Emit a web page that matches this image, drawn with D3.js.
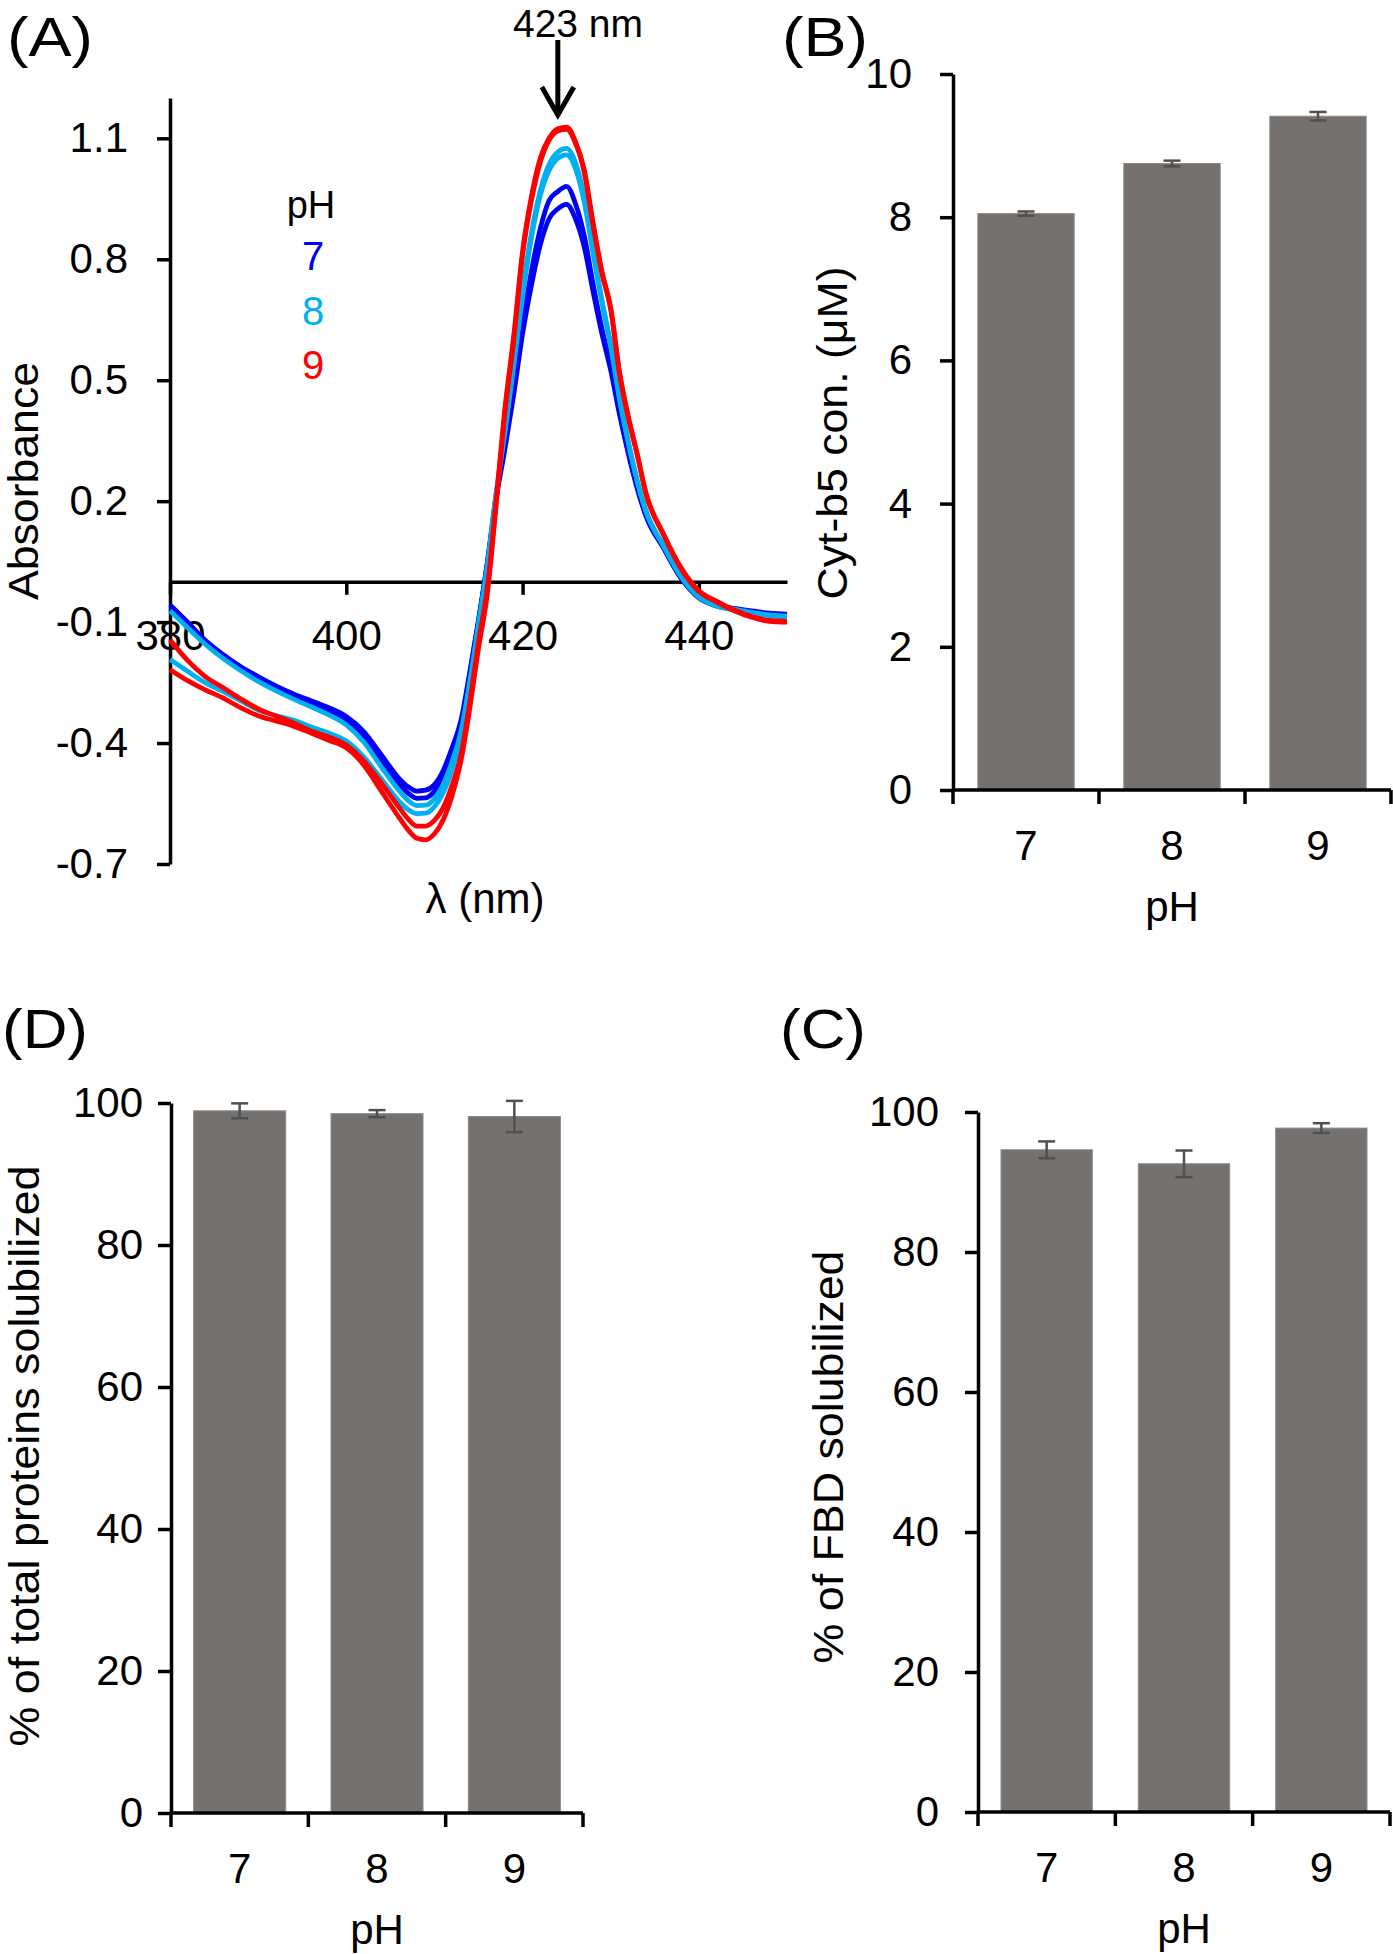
<!DOCTYPE html>
<html><head><meta charset="utf-8">
<script src="https://cdn.jsdelivr.net/npm/d3@7"></script>
<style>body{margin:0;background:#fff}svg{display:block}text{font-family:"Liberation Sans",Arial,sans-serif;fill:#000}</style>
</head><body>
<script>
// ---------- Panel A data ----------
const wavelengths = [380,382,384,386,388,390,392,394,396,398,400,402,404,406,
 407,408,409,410,411,412,413,414,415,416,417,418,419,420,421,422,423,424,425,426,427,428,429,430,431,432,433,434,
 436,438,440,442,444,446,448,450];
const absPH7a = [-0.057,-0.100,-0.145,-0.180,-0.210,-0.235,-0.258,-0.278,-0.295,-0.312,-0.334,-0.372,-0.430,-0.488,
 -0.508,-0.519,-0.517,-0.503,-0.468,-0.412,-0.345,-0.225,-0.095,0.045,0.205,0.330,0.465,0.615,0.735,0.835,0.900,0.925,0.936,0.900,0.830,0.720,0.615,0.525,0.415,0.318,0.232,0.163,
 0.083,0.008,-0.038,-0.058,-0.066,-0.072,-0.078,-0.080];
const absPH7b = [-0.066,-0.108,-0.150,-0.186,-0.216,-0.242,-0.265,-0.286,-0.304,-0.322,-0.345,-0.385,-0.445,-0.502,
 -0.524,-0.537,-0.536,-0.520,-0.485,-0.428,-0.358,-0.232,-0.098,0.048,0.215,0.345,0.485,0.640,0.770,0.875,0.945,0.968,0.981,0.938,0.858,0.738,0.628,0.535,0.422,0.322,0.236,0.166,
 0.085,0.010,-0.040,-0.060,-0.068,-0.074,-0.079,-0.082];
const absPH8a = [-0.072,-0.114,-0.155,-0.190,-0.220,-0.247,-0.270,-0.291,-0.310,-0.330,-0.355,-0.398,-0.460,-0.518,
 -0.542,-0.555,-0.554,-0.538,-0.502,-0.446,-0.372,-0.248,-0.105,0.040,0.220,0.380,0.545,0.720,0.865,0.970,1.035,1.066,1.075,1.040,0.955,0.825,0.700,0.590,0.458,0.348,0.252,0.176,
 0.090,0.014,-0.036,-0.058,-0.068,-0.076,-0.082,-0.085];
const absPH8b = [-0.193,-0.222,-0.250,-0.272,-0.295,-0.318,-0.332,-0.343,-0.360,-0.375,-0.395,-0.435,-0.490,-0.545,
 -0.565,-0.575,-0.574,-0.558,-0.523,-0.466,-0.390,-0.262,-0.112,0.035,0.215,0.372,0.535,0.708,0.852,0.957,1.020,1.050,1.059,1.025,0.942,0.815,0.692,0.584,0.452,0.344,0.249,0.174,
 0.088,0.012,-0.038,-0.060,-0.070,-0.078,-0.084,-0.088];
const absPH9a = [-0.144,-0.195,-0.235,-0.262,-0.290,-0.315,-0.333,-0.350,-0.370,-0.385,-0.405,-0.445,-0.500,-0.560,
 -0.588,-0.606,-0.606,-0.592,-0.560,-0.505,-0.430,-0.300,-0.150,-0.015,0.200,0.430,0.610,0.820,0.955,1.050,1.100,1.124,1.128,1.092,1.022,0.890,0.770,0.680,0.520,0.410,0.318,0.220,
 0.118,0.034,-0.022,-0.048,-0.070,-0.086,-0.096,-0.098];
const absPH9b = [-0.218,-0.245,-0.268,-0.288,-0.312,-0.332,-0.345,-0.358,-0.375,-0.393,-0.412,-0.455,-0.520,-0.585,
 -0.615,-0.636,-0.640,-0.625,-0.590,-0.530,-0.445,-0.315,-0.165,-0.030,0.190,0.420,0.600,0.810,0.945,1.040,1.095,1.118,1.122,1.088,1.015,0.885,0.765,0.675,0.515,0.405,0.315,0.218,
 0.116,0.032,-0.024,-0.050,-0.072,-0.088,-0.098,-0.100];
const aXTicks = [380,400,420,440];
const aYTicks = [-0.7,-0.4,-0.1,0.2,0.5,0.8,1.1];
const legendLabels = ["7","8","9"];

// ---------- Bar panels data ----------
const phCategories = ["7","8","9"];
const cytB5 = [8.05,8.75,9.41];
const cytB5Err = [0.03,0.04,0.06];
const totalProtein = [98.9,98.5,98.1];
const totalProteinErr = [1.05,0.5,2.2];
const fbdSolubilized = [94.6,92.6,97.7];
const fbdSolubilizedErr = [1.2,1.9,0.7];
const bTicks = [0,2,4,6,8,10];
const pctTicks = [0,20,40,60,80,100];

const colors = {"7":"#0000f5","8":"#00b0f0","9":"#ff0000"};
const BAR = "#75716f", ERR = "#505050";

const svg = d3.select("body").append("svg").attr("width",1393).attr("height",1954);
svg.append("rect").attr("width",1393).attr("height",1954).attr("fill","#fff");

function styleAxis(g, fs){
  g.selectAll("path.domain").attr("stroke","#000").attr("stroke-width",3.5);
  g.selectAll(".tick line").attr("stroke","#000").attr("stroke-width",3.5);
  g.selectAll(".tick text").attr("font-size",fs).attr("fill","#000")
    .style("font-family",'"Liberation Sans",Arial,sans-serif');
}
function rotTitle(x,y,txt,len){
  svg.append("text").attr("transform",`translate(${x},${y}) rotate(-90)`)
    .attr("text-anchor","middle").attr("dominant-baseline","central")
    .attr("font-size",42).attr("textLength",len).attr("lengthAdjust","spacingAndGlyphs").text(txt);
}
function panelLabel(x,y,txt){
  svg.append("text").attr("x",x).attr("y",y).attr("font-size",56)
    .attr("textLength",86).attr("lengthAdjust","spacingAndGlyphs").text(txt);
}

// ---------- Panel A ----------
const xA = d3.scaleLinear().domain([380,450]).range([170,787]);
const yA = d3.scaleLinear().domain([-0.7,1.2]).range([864,98]);
const gAy = svg.append("g").attr("transform","translate(170,0)")
  .call(d3.axisLeft(yA).tickValues(aYTicks).tickSize(13).tickSizeOuter(0).tickPadding(29).tickFormat(d=>d.toFixed(1)));
styleAxis(gAy,42);
const gAx = svg.append("g").attr("transform",`translate(0,${yA(0)})`)
  .call(d3.axisBottom(xA).tickValues(aXTicks).tickSize(13).tickSizeOuter(0).tickPadding(25).tickFormat(d3.format("d")));
styleAxis(gAx,42);

const series = [
  {ph:"7", v:absPH7a},{ph:"7", v:absPH7b},
  {ph:"8", v:absPH8a},{ph:"8", v:absPH8b},
  {ph:"9", v:absPH9a},{ph:"9", v:absPH9b}
];
const line = d3.line().x((d,i)=>xA(wavelengths[i])).y(d=>yA(d)).curve(d3.curveMonotoneX);
svg.append("g").selectAll("path").data(series).join("path")
  .attr("d",d=>line(d.v)).attr("fill","none").attr("stroke",d=>colors[d.ph])
  .attr("stroke-width",4.8).attr("stroke-linejoin","round");

// legend
svg.append("text").attr("x",311).attr("y",218).attr("text-anchor","middle").attr("font-size",38).text("pH");
svg.append("g").selectAll("text").data(legendLabels).join("text")
  .attr("x",313).attr("y",(d,i)=>270+i*54.5).attr("text-anchor","middle").attr("font-size",40)
  .style("fill",d=>colors[d]).text(d=>d);

// arrow + label
const ax = xA(424);
svg.append("line").attr("x1",ax).attr("x2",ax).attr("y1",40).attr("y2",112).attr("stroke","#000").attr("stroke-width",5);
svg.append("path").attr("d",`M${ax-16},${87}L${ax},${115}L${ax+16},${87}`).attr("fill","none").attr("stroke","#000").attr("stroke-width",5).attr("stroke-linejoin","miter");
svg.append("text").attr("x",578).attr("y",37).attr("text-anchor","middle").attr("font-size",39).text("423 nm");

svg.append("text").attr("x",485).attr("y",913).attr("text-anchor","middle").attr("font-size",42).text("λ (nm)");
rotTitle(23,481,"Absorbance",238);
panelLabel(7,56,"(A)");

// ---------- Bar panel helper ----------
function barPanel(o){
  const x = d3.scaleBand().domain(phCategories).range([o.x0,o.x1]).paddingInner(o.pad).paddingOuter(o.pad/2);
  const y = d3.scaleLinear().domain(o.domain).range([o.y0,o.y1]);
  const g = svg.append("g");
  g.selectAll("rect").data(phCategories).join("rect")
    .attr("x",d=>x(d)).attr("width",x.bandwidth())
    .attr("y",(d,i)=>y(o.vals[i])).attr("height",(d,i)=>y(0)-y(o.vals[i]))
    .attr("fill",BAR).attr("stroke","#8c8887").attr("stroke-width",1);
  const eg = g.append("g").attr("stroke",ERR).attr("stroke-width",2.5);
  phCategories.forEach((c,i)=>{
    const cx = x(c)+x.bandwidth()/2, lo=y(o.vals[i]-o.errs[i]), hi=y(o.vals[i]+o.errs[i]);
    eg.append("line").attr("x1",cx).attr("x2",cx).attr("y1",lo).attr("y2",hi);
    eg.append("line").attr("x1",cx-8.5).attr("x2",cx+8.5).attr("y1",lo).attr("y2",lo);
    eg.append("line").attr("x1",cx-8.5).attr("x2",cx+8.5).attr("y1",hi).attr("y2",hi);
  });
  const gy = svg.append("g").attr("transform",`translate(${o.x0},0)`)
    .call(d3.axisLeft(y).tickValues(o.ticks).tickSize(13).tickSizeOuter(0).tickPadding(o.tp).tickFormat(d3.format("d")));
  styleAxis(gy,42);
  const step = x.step();
  const bounds = d3.range(phCategories.length+1).map(i=>o.x0+i*step);
  svg.append("line").attr("x1",o.x0).attr("x2",o.x1).attr("y1",y(0)).attr("y2",y(0)).attr("stroke","#000").attr("stroke-width",3.5);
  svg.append("g").selectAll("line").data(bounds).join("line")
    .attr("x1",d=>d).attr("x2",d=>d).attr("y1",y(0)).attr("y2",y(0)+14).attr("stroke","#000").attr("stroke-width",3.5);
  svg.append("g").selectAll("text").data(phCategories).join("text")
    .attr("x",d=>x(d)+x.bandwidth()/2).attr("y",y(0)+70).attr("text-anchor","middle").attr("font-size",42).text(d=>d);
  svg.append("text").attr("x",(o.x0+o.x1)/2).attr("y",y(0)+131).attr("text-anchor","middle").attr("font-size",42).text("pH");
}

// Panel B
barPanel({x0:953,x1:1391,y0:790,y1:74,domain:[0,10],vals:cytB5,errs:cytB5Err,ticks:bTicks,pad:0.34,tp:28});
rotTitle(832,433,"Cyt-b5 con. (μM)",333);
panelLabel(782,56,"(B)");

// Panel D
barPanel({x0:171,x1:583,y0:1813,y1:1103,domain:[0,100],vals:totalProtein,errs:totalProteinErr,ticks:pctTicks,pad:0.33,tp:15});
rotTitle(24,1456,"% of total proteins solubilized",581);
panelLabel(2,1048,"(D)");

// Panel C
barPanel({x0:978,x1:1390,y0:1812,y1:1112,domain:[0,100],vals:fbdSolubilized,errs:fbdSolubilizedErr,ticks:pctTicks,pad:0.335,tp:26});
rotTitle(828,1457,"% of FBD solubilized",413);
panelLabel(780,1048,"(C)");
</script>
</body></html>
